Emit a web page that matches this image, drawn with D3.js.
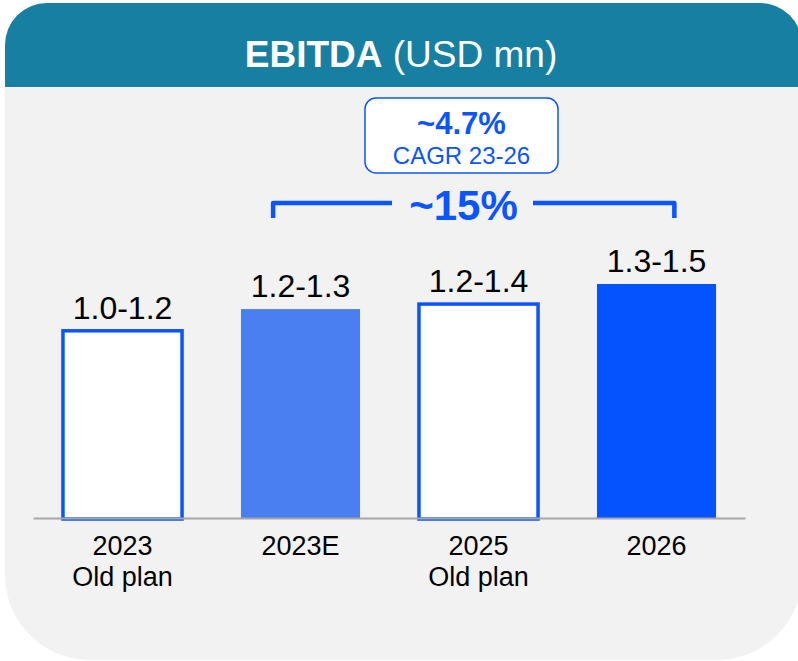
<!DOCTYPE html>
<html>
<head>
<meta charset="utf-8">
<script src="https://cdn.jsdelivr.net/npm/d3@7"></script>
<style>
  body { margin: 0; background: #ffffff; }
  text { font-family: "Liberation Sans", Arial, sans-serif; }
</style>
</head>
<body>
<div id="chart"></div>
<script>
// data
const years = ["2023", "2023E", "2025", "2026"];
const subLabels = ["Old plan", "", "Old plan", ""];
const ebitda = [1.12, 1.25, 1.28, 1.40];
const rangeLabels = ["1.0-1.2", "1.2-1.3", "1.2-1.4", "1.3-1.5"];
const isOldPlan = [true, false, true, false];
const cagr = "~4.7%";
const cagrLabel = "CAGR 23-26";
const growth = "~15%";

const width = 798;
const height = 661;
const blue = "#0a55ff";

const svg = d3.select("#chart")
    .append("svg")
    .attr("width", width)
    .attr("height", height)
    .attr("viewBox", [0, 0, width, height]);

// card: top corners small radius, bottom corners big radius
const card = {l: 5, t: 3, r: 802, b: 660, rt: 42, rb: 85};
function cardPath(c, bottom) {
    const p = d3.path();
    p.moveTo(c.l, c.t + c.rt);
    p.arcTo(c.l, c.t, c.l + c.rt, c.t, c.rt);
    p.lineTo(c.r - c.rt, c.t);
    p.arcTo(c.r, c.t, c.r, c.t + c.rt, c.rt);
    p.lineTo(c.r, bottom - c.rb);
    p.arcTo(c.r, bottom, c.r - c.rb, bottom, c.rb);
    p.lineTo(c.l + c.rb, bottom);
    p.arcTo(c.l, bottom, c.l, bottom - c.rb, c.rb);
    p.closePath();
    return p.toString();
}
svg.append("path")
    .attr("d", cardPath(card, card.b))
    .attr("fill", "#f2f2f2");

// header band
const headerH = 87;
svg.append("clipPath").attr("id", "hdr")
    .append("rect").attr("x", 0).attr("y", 0).attr("width", width).attr("height", headerH);
svg.append("path")
    .attr("d", cardPath(card, card.b))
    .attr("fill", "#177fa1")
    .attr("clip-path", "url(#hdr)");

const title = svg.append("text")
    .attr("x", 401)
    .attr("y", 67)
    .attr("text-anchor", "middle")
    .attr("fill", "white")
    .attr("font-size", "37px");
title.append("tspan").attr("font-weight", "bold").text("EBITDA");
title.append("tspan").text(" (USD mn)");

// scales
const x = d3.scaleBand()
    .domain(years)
    .range([33.5, 745.5])
    .paddingInner(0.331)
    .paddingOuter(0.1655);

const y = d3.scaleLinear()
    .domain([0, 1.4])
    .range([518, 284]);

// bars
const bars = svg.append("g");
years.forEach((yr, i) => {
    if (isOldPlan[i]) {
        bars.append("rect")
            .attr("x", x(yr))
            .attr("y", y(ebitda[i]))
            .attr("width", x.bandwidth())
            .attr("height", y(0) - y(ebitda[i]) + 1)
            .attr("fill", "white")
            .attr("stroke", blue)
            .attr("stroke-width", 3.5);
    } else {
        bars.append("rect")
            .attr("x", x(yr))
            .attr("y", y(ebitda[i]))
            .attr("width", x.bandwidth())
            .attr("height", y(0) - y(ebitda[i]))
            .attr("fill", i === 1 ? "#4a7ff2" : "#0552ff");
    }
    bars.append("text")
        .attr("x", x(yr) + x.bandwidth() / 2)
        .attr("y", y(ebitda[i]) - 12)
        .attr("text-anchor", "middle")
        .attr("font-size", "32px")
        .attr("fill", "#000")
        .text(rangeLabels[i]);
});

// axis line
svg.append("line")
    .attr("x1", x.range()[0])
    .attr("x2", x.range()[1])
    .attr("y1", y(0) + 0.5)
    .attr("y2", y(0) + 0.5)
    .attr("stroke", "#a6a6a6")
    .attr("stroke-width", 2);

// category labels
years.forEach((yr, i) => {
    const t = svg.append("text")
        .attr("x", x(yr) + x.bandwidth() / 2)
        .attr("y", 555)
        .attr("text-anchor", "middle")
        .attr("font-size", "27px")
        .attr("fill", "#000");
    t.append("tspan").text(yr);
    if (subLabels[i]) {
        t.append("tspan")
            .attr("x", x(yr) + x.bandwidth() / 2)
            .attr("dy", 31)
            .text(subLabels[i]);
    }
});

// growth bracket
const bx1 = x("2023E") + x.bandwidth() * 0.27;
const bx2 = x("2026") + x.bandwidth() * 0.65;
const by = 203;
const gx = (x("2023E") + x("2026") + x.bandwidth()) / 2 - 15;
const bracket = svg.append("g")
    .attr("fill", "none")
    .attr("stroke", blue)
    .attr("stroke-width", 4.5)
    .attr("stroke-linejoin", "round");
bracket.append("path")
    .attr("d", `M${bx1},218 V${by} H392`);
bracket.append("path")
    .attr("d", `M533,${by} H${bx2} V218`);
svg.append("text")
    .attr("x", gx)
    .attr("y", 220)
    .attr("text-anchor", "middle")
    .attr("font-size", "42px")
    .attr("font-weight", "bold")
    .attr("fill", blue)
    .text(growth);

// CAGR box
svg.append("rect")
    .attr("x", 365)
    .attr("y", 98)
    .attr("width", 193)
    .attr("height", 75)
    .attr("rx", 11)
    .attr("fill", "white")
    .attr("stroke", blue)
    .attr("stroke-width", 1.5);
svg.append("text")
    .attr("x", 461.5)
    .attr("y", 134)
    .attr("text-anchor", "middle")
    .attr("font-size", "31px")
    .attr("font-weight", "bold")
    .attr("fill", blue)
    .text(cagr);
svg.append("text")
    .attr("x", 461.5)
    .attr("y", 164)
    .attr("text-anchor", "middle")
    .attr("font-size", "24px")
    .attr("fill", blue)
    .text(cagrLabel);
</script>
</body>
</html>
